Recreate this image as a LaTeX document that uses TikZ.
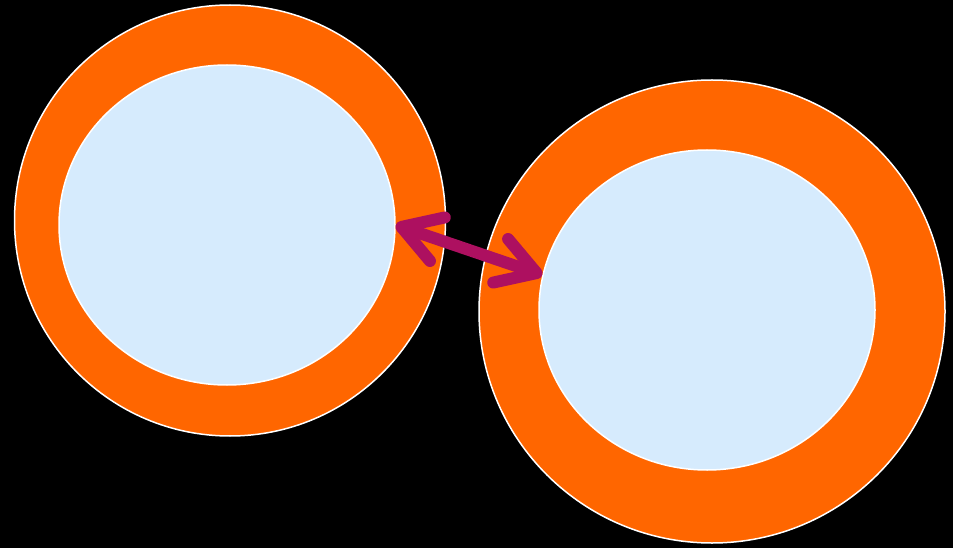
\documentclass[tikz,border=0pt]{standalone}
\usepackage{xcolor}
\usepackage{tikz}
\usetikzlibrary{arrows.meta,shapes.geometric}
\definecolor{dorange}{HTML}{FF6600}
\definecolor{dsky}{HTML}{D6EBFD}
\definecolor{dmag}{HTML}{AD1060}
\tikzset{
  douter/.style={ellipse, draw=white, fill=dorange, line width=1.5pt, inner sep=0pt},
  dinner/.style={ellipse, draw=white, fill=dsky, line width=1.5pt, inner sep=0pt},
  dlink/.style={dmag, line width=12pt, line cap=round,
    {Straight Barb[length=38pt, width=46pt, round]}-{Straight Barb[length=38pt, width=46pt, round]}},
}
\begin{document}
\begin{tikzpicture}[x=1pt,y=-1pt]

  % fundo
  \fill[black] (0,0) rectangle (953,548);

  % anéis
  \node[douter, minimum width=431pt, minimum height=431pt] (lout) at (230,220.5) {};
  \node[dinner, minimum width=336pt, minimum height=320pt] (lin) at (227,225) {};
  \node[douter, minimum width=466pt, minimum height=463pt] (rout) at (712,311.5) {};
  \node[dinner, minimum width=336pt, minimum height=320pt] (rin) at (707,310) {};

  % ligação
  \draw[dlink] (lin.east) -- (rin.168);

\end{tikzpicture}
\end{document}
